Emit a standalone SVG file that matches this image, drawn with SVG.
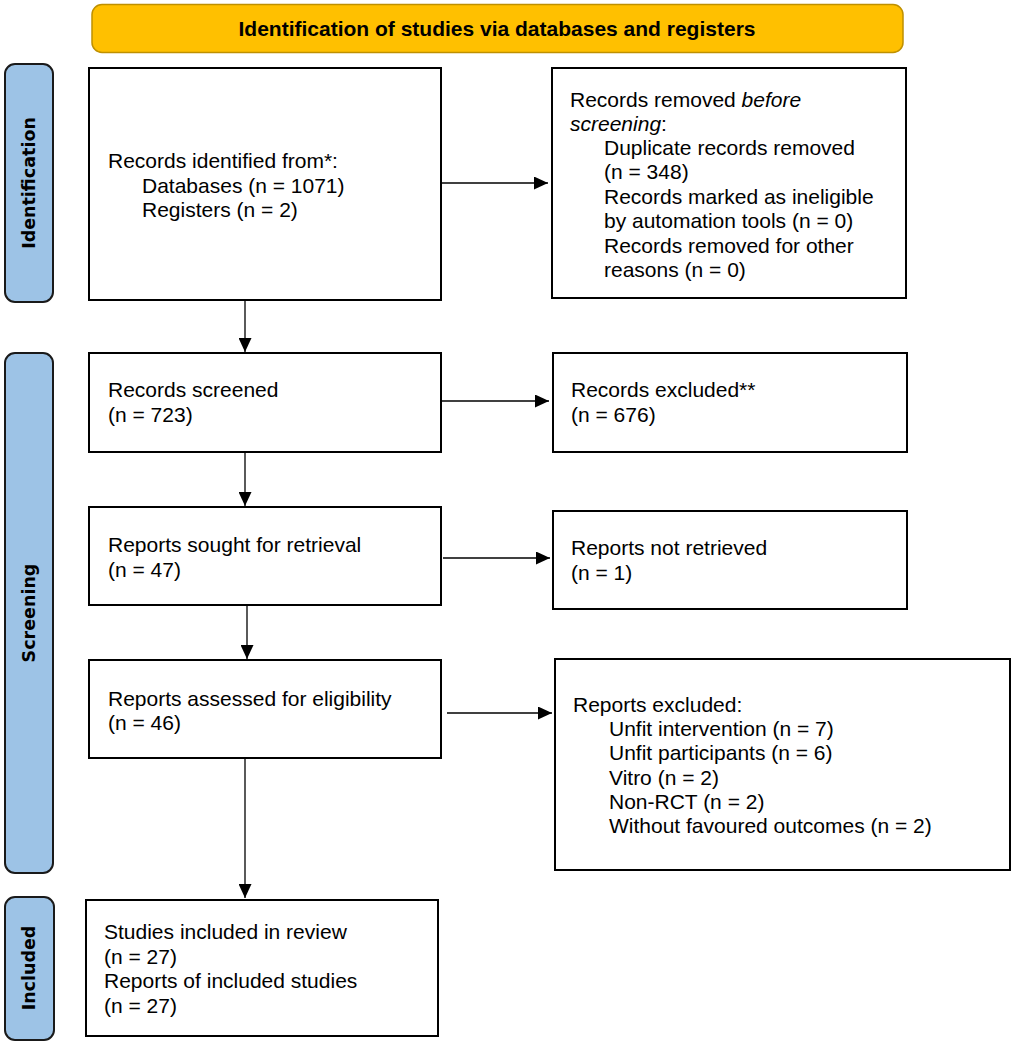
<svg xmlns="http://www.w3.org/2000/svg" width="1013" height="1044" viewBox="0 0 1013 1044">
<defs>
<marker id="ah" markerWidth="14" markerHeight="13" refX="14" refY="6.5" orient="auto" markerUnits="userSpaceOnUse">
<path d="M0,0 L14,6.5 L0,13 Z" fill="#000"/>
</marker>
<style>
.box{fill:#fff;stroke:#000;stroke-width:2}
.side{fill:#9DC3E6;stroke:#1a1a1a;stroke-width:2}
.t{font-family:"Liberation Sans",Arial,sans-serif;font-size:21px;fill:#000}
.st{font-family:"DejaVu Sans",Verdana,sans-serif;font-size:17.5px;font-weight:bold;fill:#000}
.conn{stroke:#000;stroke-width:1.3;fill:none}
</style>
</defs>
<rect width="1013" height="1044" fill="#fff"/>
<g id="banner">
<rect x="92" y="4.5" width="811" height="48" rx="10" fill="#FFC000" stroke="#BF9000" stroke-width="1.5"/>
<text x="497" y="36" text-anchor="middle" font-family="Liberation Sans,Arial,sans-serif" font-size="21" font-weight="bold">Identification of studies via databases and registers</text>
</g>
<g id="lane-identification">
<rect class="side" x="5" y="64" width="48" height="238" rx="10"/>
<text class="st" transform="translate(35,183) rotate(-90)" text-anchor="middle">Identification</text>
</g>
<g id="lane-screening">
<rect class="side" x="5" y="353" width="48" height="520" rx="10"/>
<text class="st" transform="translate(35,613) rotate(-90)" text-anchor="middle">Screening</text>
</g>
<g id="lane-included">
<rect class="side" x="5" y="897" width="49" height="143" rx="10"/>
<text class="st" transform="translate(35,968) rotate(-90)" text-anchor="middle">Included</text>
</g>
<g id="n-identified">
<rect class="box" x="89" y="68" width="352" height="232"/>
<text class="t" x="108" y="168">Records identified from*:</text>
<text class="t" x="142" y="193">Databases (n = 1071)</text>
<text class="t" x="142" y="217">Registers (n = 2)</text>
</g>
<g id="n-removed">
<rect class="box" x="552" y="68" width="354" height="230"/>
<text class="t" x="570" y="107">Records removed <tspan font-style="italic">before</tspan></text>
<text class="t" x="570" y="131"><tspan font-style="italic">screening</tspan>:</text>
<text class="t" x="604" y="155">Duplicate records removed</text>
<text class="t" x="604" y="179">(n = 348)</text>
<text class="t" x="604" y="204">Records marked as ineligible</text>
<text class="t" x="604" y="228">by automation tools (n = 0)</text>
<text class="t" x="604" y="253">Records removed for other</text>
<text class="t" x="604" y="277">reasons (n = 0)</text>
</g>
<g id="n-screened">
<rect class="box" x="89" y="353" width="352" height="99"/>
<text class="t" x="108" y="397">Records screened</text>
<text class="t" x="108" y="422">(n = 723)</text>
</g>
<g id="n-excluded">
<rect class="box" x="553" y="353" width="354" height="99"/>
<text class="t" x="571" y="397">Records excluded**</text>
<text class="t" x="571" y="422">(n = 676)</text>
</g>
<g id="n-sought">
<rect class="box" x="89" y="507" width="352" height="98"/>
<text class="t" x="108" y="552">Reports sought for retrieval</text>
<text class="t" x="108" y="577">(n = 47)</text>
</g>
<g id="n-notretrieved">
<rect class="box" x="553" y="511" width="354" height="98"/>
<text class="t" x="571" y="555">Reports not retrieved</text>
<text class="t" x="571" y="580">(n = 1)</text>
</g>
<g id="n-assessed">
<rect class="box" x="89" y="660" width="352" height="98"/>
<text class="t" x="108" y="706">Reports assessed for eligibility</text>
<text class="t" x="108" y="730">(n = 46)</text>
</g>
<g id="n-reportsexcluded">
<rect class="box" x="555" y="659" width="455" height="211"/>
<text class="t" x="573" y="712">Reports excluded:</text>
<text class="t" x="609" y="736">Unfit intervention (n = 7)</text>
<text class="t" x="609" y="760">Unfit participants (n = 6)</text>
<text class="t" x="609" y="785">Vitro (n = 2)</text>
<text class="t" x="609" y="809">Non-RCT (n = 2)</text>
<text class="t" x="609" y="833">Without favoured outcomes (n = 2)</text>
</g>
<g id="n-included">
<rect class="box" x="86" y="900" width="352" height="136"/>
<text class="t" x="104" y="939">Studies included in review</text>
<text class="t" x="104" y="964">(n = 27)</text>
<text class="t" x="104" y="988">Reports of included studies</text>
<text class="t" x="104" y="1013">(n = 27)</text>
</g>
<g id="connectors">
<line class="conn" x1="441" y1="183" x2="548" y2="183" marker-end="url(#ah)"/>
<line class="conn" x1="245" y1="300" x2="245" y2="352" marker-end="url(#ah)"/>
<line class="conn" x1="441" y1="401" x2="549" y2="401" marker-end="url(#ah)"/>
<line class="conn" x1="245" y1="452" x2="245" y2="506" marker-end="url(#ah)"/>
<line class="conn" x1="443" y1="558" x2="550" y2="558" marker-end="url(#ah)"/>
<line class="conn" x1="247" y1="605" x2="247" y2="659" marker-end="url(#ah)"/>
<line class="conn" x1="447" y1="713" x2="552" y2="713" stroke-width="2" marker-end="url(#ah)"/>
<line class="conn" x1="245" y1="758" x2="245" y2="898" marker-end="url(#ah)"/>
</g>
</svg>
